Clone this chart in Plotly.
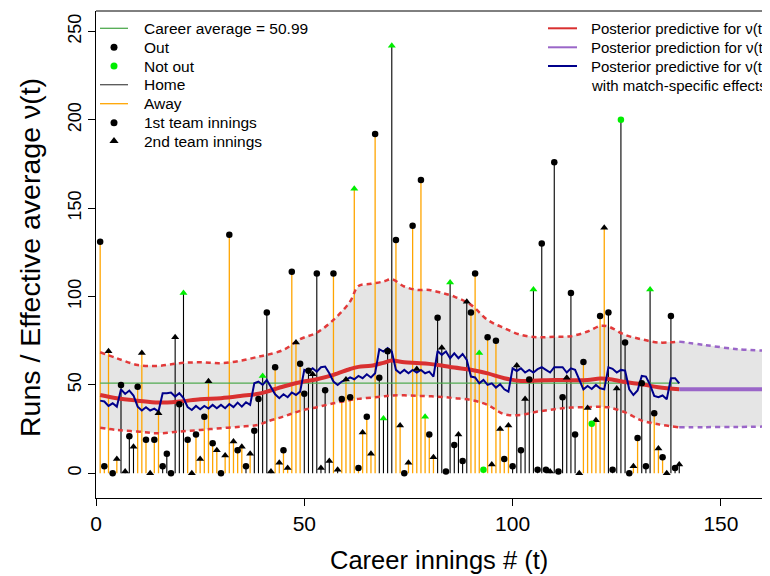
import plotly.graph_objects as go

# ---------------- data ----------------
innings = list(range(1, 141))
runs = [131, 4, 69, 0, 8, 50, 1, 21, 15, 49,
        68, 19, 0, 19, 34, 4, 11, 0, 77, 39,
        102, 19, 0, 22, 8, 32, 52, 17, 13, 0,
        10, 135, 18, 13, 15, 4, 11, 24, 42, 55,
        91, 1, 60, 6, 13, 3, 114, 74, 62, 45,
        58, 56, 113, 3, 47, 7, 113, 2, 42, 53,
        43, 161, 3, 23, 32, 11, 192, 54, 31, 69,
        242, 132, 27, 0, 6, 140, 59, 166, 32, 22,
        9, 88, 71, 1, 108, 16, 22, 7, 97, 91,
        113, 68, 2, 77, 5, 75, 25, 8, 27, 4,
        61, 13, 42, 53, 104, 2, 130, 2, 1, 176,
        1, 43, 54, 102, 22, 0, 63, 37, 28, 30,
        89, 139, 91, 2, 48, 200, 74, 0, 4, 20,
        51, 4, 104, 34, 14, 9, 0, 89, 3, 5]
not_out = [21, 40, 62, 69, 71, 79, 85, 92, 93, 105, 119, 126, 133]
second_team_innings = [3, 5, 7, 9, 11, 13, 15, 19, 21, 23, 25, 27, 29, 31, 33, 35, 37, 40,
                       42, 44, 46, 48, 52, 54, 56, 58, 60, 62, 64, 66, 69, 71, 73, 75, 77,
                       79, 81, 83, 85, 87, 89, 92, 95, 97, 99, 101, 103, 105, 109, 113, 116,
                       118, 120, 122, 125, 129, 133, 135, 137, 140]
home_innings = ([6, 7, 8, 9, 16, 17, 18, 19, 20, 21, 36, 38, 39, 40, 41, 42,
                 50, 51, 52, 53, 54, 55, 56, 58, 68, 69, 70, 71,
                 82, 83, 84, 85, 86, 87, 88, 89]
                + list(range(100, 117)) + [123, 124, 125, 126, 127, 128,
                                           131, 132, 133, 138, 139, 140])
career_average = 50.99

match_effect = [41.1, 40.6, 38.1, 39.6, 37.7, 47.5, 44.9, 46.8, 44.0, 37.7,
                35.5, 37.4, 35.5, 36.6, 34.9, 45.3, 45.3, 45.7, 43.4, 45.3,
                42.5, 37.4, 35.8, 38.1, 36.2, 38.1, 36.6, 38.7, 36.8, 38.7,
                36.8, 39.2, 37.4, 40.0, 37.7, 40.2, 38.7, 50.9, 51.9, 50.0,
                52.8, 49.1, 44.7, 42.5, 44.7, 43.0, 45.7, 44.3, 46.2, 58.5,
                57.5, 59.4, 57.5, 60.0, 60.4, 56.6, 51.9, 50.0, 51.9, 52.8,
                54.3, 53.2, 55.1, 53.8, 56.0, 54.2, 56.6, 70.2, 68.9, 70.8,
                68.9, 58.5, 56.6, 58.5, 56.6, 58.5, 57.0, 58.5, 56.6, 57.5,
                54.7, 69.2, 67.0, 68.9, 65.1, 67.9, 65.1, 67.5, 64.2, 54.7,
                54.2, 50.9, 52.8, 50.0, 50.9, 48.5, 50.4, 47.5, 46.2, 59.4,
                57.9, 59.4, 57.0, 58.5, 57.0, 58.9, 60.0, 58.5, 57.0, 60.0,
                59.8, 60.0, 57.0, 59.4, 58.5, 53.2, 47.5, 49.4, 47.7, 50.0,
                48.1, 47.5, 60.0, 59.1, 57.0, 58.5, 58.1, 47.5, 44.3, 46.8,
                55.1, 54.7, 50.0, 43.8, 43.0, 44.0, 41.9, 53.8, 53.8, 50.9]

band_t = [1, 5, 10, 15, 20, 25, 30, 35, 39, 41, 45, 49, 53, 57, 61, 63, 66, 69, 71,
          74, 77, 80, 83, 86, 90, 94, 98, 102, 106, 110, 114, 118, 121, 123, 127,
          131, 135, 140]
band_upper = [68.5, 65.1, 61.3, 60.8, 62.3, 62.8, 62.3, 63.8, 66.0, 67.0, 69.8, 75.9,
              79.6, 86.8, 97.2, 106.0, 107.2, 108.5, 109.8, 105.7, 103.8, 103.7, 102.1,
              100.0, 95.3, 86.8, 82.1, 78.3, 77.0, 77.3, 77.6, 80.2, 83.4, 83.0, 78.3,
              75.8, 74.0, 74.5]
band_lower = [25.8, 24.5, 23.6, 22.6, 23.6, 24.5, 25.5, 26.4, 27.4, 29.2, 32.1, 35.3,
              37.4, 39.6, 41.4, 42.1, 42.8, 43.5, 44.0, 44.1, 43.8, 43.6, 43.2, 42.5,
              41.5, 38.7, 33.4, 33.0, 34.9, 36.2, 37.2, 37.4, 37.6, 37.3, 34.5, 29.8,
              27.7, 26.0]
band_mean = [44.3, 42.5, 41.1, 40.0, 40.6, 41.9, 42.5, 43.8, 45.0, 46.2, 49.1, 51.5,
             53.2, 55.7, 59.0, 60.2, 60.8, 62.5, 63.8, 62.8, 62.4, 61.9, 61.0, 59.8,
             58.6, 56.5, 53.8, 52.2, 52.5, 52.8, 52.7, 52.8, 53.6, 53.4, 51.6, 50.4,
             48.7, 47.5]
pred_t = [140, 146, 154, 160]
pred_upper = [74.5, 72.6, 70.2, 69.4]
pred_lower = [26.0, 26.1, 26.2, 26.4]
pred_mean = [47.5, 47.5, 47.5, 47.5]

x_ticks = [0, 50, 100, 150]
y_ticks = [0, 50, 100, 150, 200, 250]

# ---------------- style ----------------
FONT = "Liberation Sans, Arial, sans-serif"
ORANGE = "#FFA500"
HOME_C = "#000000"
GREEN_PT = "#00EE00"
AVG_C = "rgb(80,170,80)"
RED = "#D93030"
RED_D = "#E23A3A"
PURPLE = "#9A66C8"
NAVY = "#00008B"
FILL = "#E5E5E5"

# page offset of the figure inside the browser page (body margin)
OFF = 8
PLOT_L, PLOT_T, PLOT_B = 96, 11, 498          # page pixels of the plot box
FIG_W, FIG_H = 770, 576
PLOT_W = FIG_W - (PLOT_L - OFF)               # plot area runs to the figure's right edge
PLOT_H = PLOT_B - PLOT_T
PX_PER_INNING = 4.166

def px(xp):
    return (xp - PLOT_L) / PLOT_W

def py(yp):
    return (PLOT_B - yp) / PLOT_H

fig = go.Figure()

# grey credible band
poly_x = band_t + pred_t[1:] + pred_t[::-1] + band_t[::-1][1:]
poly_y = band_upper + pred_upper[1:] + pred_lower[::-1] + band_lower[::-1][1:]
fig.add_trace(go.Scatter(x=poly_x, y=poly_y, fill="toself", fillcolor=FILL,
                         line=dict(width=0), mode="lines", hoverinfo="skip"))

# stems
def stems(sel):
    xs, ys = [], []
    for t, r in zip(innings, runs):
        if sel(t):
            xs += [t, t, None]
            ys += [0, r, None]
    return xs, ys

hx, hy = stems(lambda t: t in home_innings)
ax_, ay_ = stems(lambda t: t not in home_innings)
fig.add_trace(go.Scatter(x=ax_, y=ay_, mode="lines", line=dict(color=ORANGE, width=1.3)))
fig.add_trace(go.Scatter(x=hx, y=hy, mode="lines", line=dict(color=HOME_C, width=1.1)))

# career average
fig.add_trace(go.Scatter(x=[innings[0], innings[-1]], y=[career_average] * 2, mode="lines",
                         line=dict(color=AVG_C, width=1.4)))

# bands
for arr in (band_upper, band_lower):
    fig.add_trace(go.Scatter(x=band_t, y=arr, mode="lines", line_shape="spline",
                             line=dict(color=RED_D, width=2.5, dash="5px,4px")))
for arr in (pred_upper, pred_lower):
    fig.add_trace(go.Scatter(x=pred_t, y=arr, mode="lines", line_shape="spline",
                             line=dict(color=PURPLE, width=2.5, dash="5px,4px")))
fig.add_trace(go.Scatter(x=band_t, y=band_mean, mode="lines", line_shape="spline",
                         line=dict(color=RED, width=4)))
fig.add_trace(go.Scatter(x=pred_t, y=pred_mean, mode="lines",
                         line=dict(color=PURPLE, width=4)))
fig.add_trace(go.Scatter(x=innings, y=match_effect, mode="lines",
                         line=dict(color=NAVY, width=2)))

# points
for no in (False, True):
    for second in (False, True):
        xs = [t for t in innings if (t in not_out) == no and (t in second_team_innings) == second]
        ys = [runs[t - 1] for t in xs]
        fig.add_trace(go.Scatter(
            x=xs, y=ys, mode="markers",
            marker=dict(symbol="triangle-up" if second else "circle",
                        size=7 if second else 6.5,
                        color=GREEN_PT if no else "#000000", line=dict(width=0))))

# ---------------- legends (page-pixel coordinates on overlay axes) ----------------
left_rows = [28.3, 47.3, 66.0, 84.7, 103.7, 122.7, 141.0]
left_labels = ["Career average = 50.99", "Out", "Not out", "Home", "Away",
               "1st team innings", "2nd team innings"]
for yy, col in ((left_rows[0], AVG_C), (left_rows[3], "#555555"), (left_rows[4], ORANGE)):
    fig.add_trace(go.Scatter(x=[100, 128], y=[yy, yy], mode="lines", xaxis="x2", yaxis="y2",
                             line=dict(color=col, width=1.3)))
for yy, col, sym in ((left_rows[1], "#000000", "circle"), (left_rows[2], GREEN_PT, "circle"),
                     (left_rows[5], "#000000", "circle"), (left_rows[6], "#000000", "triangle-up")):
    fig.add_trace(go.Scatter(x=[114], y=[yy], mode="markers", xaxis="x2", yaxis="y2",
                             marker=dict(symbol=sym, size=7 if sym == "circle" else 8,
                                         color=col, line=dict(width=0))))
right_rows = [28.3, 47.3, 66.0, 85.0]
right_labels = ["Posterior predictive for \u03bd(t)", "Posterior prediction for \u03bd(t)",
                "Posterior predictive for \u03bd(t)", "with match-specific effects"]
for yy, col in zip(right_rows[:3], (RED, PURPLE, NAVY)):
    fig.add_trace(go.Scatter(x=[548, 577], y=[yy, yy], mode="lines", xaxis="x2", yaxis="y2",
                             line=dict(color=col, width=2)))

annotations = []
for yy, txt in zip(left_rows, left_labels):
    annotations.append(dict(x=142, y=yy, xref="x2", yref="y2", text=txt, showarrow=False,
                            xanchor="left", yanchor="middle", font=dict(size=15.5)))
for yy, txt in zip(right_rows, right_labels):
    annotations.append(dict(x=589, y=yy, xref="x2", yref="y2", text=txt, showarrow=False,
                            xanchor="left", yanchor="middle", font=dict(size=15)))
annotations.append(dict(x=px(439), y=py(560), xref="paper", yref="paper",
                        text="Career innings # (t)", showarrow=False, xanchor="center",
                        yanchor="middle", font=dict(size=25.5)))
annotations.append(dict(x=px(30), y=py(258), xref="paper", yref="paper",
                        text="Runs / Effective average \u03bd(t)", showarrow=False,
                        textangle=-90, xanchor="center", yanchor="middle",
                        font=dict(size=28.5)))

fig.update_layout(
    width=FIG_W, height=FIG_H,
    margin=dict(l=PLOT_L - OFF, r=0, t=PLOT_T - OFF, b=FIG_H - (PLOT_B - OFF), autoexpand=False),
    paper_bgcolor="white", plot_bgcolor="white",
    showlegend=False,
    font=dict(family=FONT, color="black"),
    xaxis=dict(range=[0, PLOT_W / PX_PER_INNING], tickvals=x_ticks, ticks="outside", ticklen=7,
               tickcolor="black", showline=True, linecolor="black", linewidth=1,
               showgrid=False, zeroline=False, tickfont=dict(size=21), automargin=False),
    yaxis=dict(range=[-14.0, 261.6], tickvals=y_ticks, ticks="outside", ticklen=7,
               tickcolor="black", showline=True, linecolor="black", linewidth=1,
               showgrid=False, zeroline=False, tickangle=-90, tickfont=dict(size=18),
               automargin=False),
    xaxis2=dict(overlaying="x", range=[PLOT_L, PLOT_L + PLOT_W], visible=False),
    yaxis2=dict(overlaying="y", range=[PLOT_B, PLOT_T], visible=False),
    annotations=annotations,
    shapes=[dict(type="line", xref="paper", yref="paper", x0=0, x1=1, y0=1, y1=1,
                 line=dict(color="black", width=1))],
)

fig.write_html("out.html")
